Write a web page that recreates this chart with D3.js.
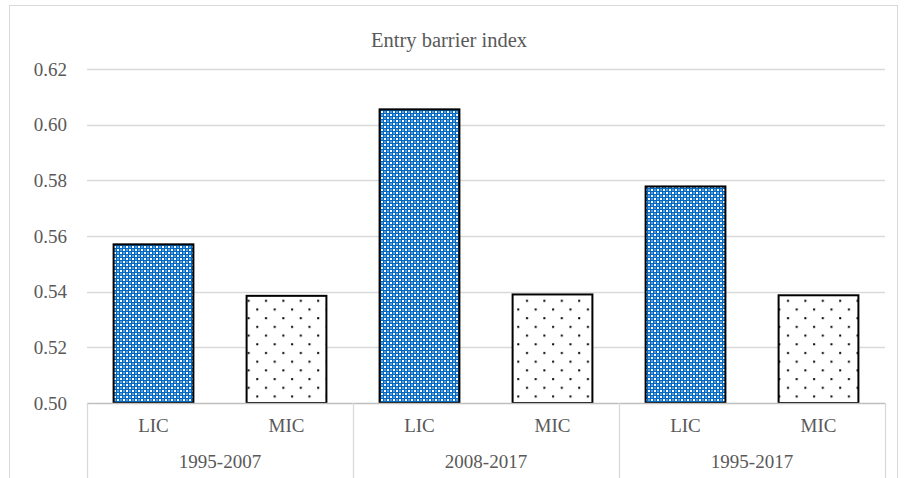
<!DOCTYPE html>
<html>
<head>
<meta charset="utf-8">
<script src="https://cdn.jsdelivr.net/npm/d3@7"></script>
<style>
  html, body { margin: 0; padding: 0; background: #fff; }
  svg { display: block; }
  text { font-family: "Liberation Serif", "Times New Roman", serif; fill: #595959; }
</style>
</head>
<body>
<svg id="chart" width="904" height="478"></svg>
<script>
// Entry barrier index by period and income group
const periods = ["1995-2007", "2008-2017", "1995-2017"];
const groups = ["LIC", "MIC"];
const licValues = [0.5570, 0.6055, 0.5778];
const micValues = [0.5385, 0.5390, 0.5387];
const yTicks = [0.50, 0.52, 0.54, 0.56, 0.58, 0.60, 0.62];
const chartTitle = "Entry barrier index";

const rows = [];
periods.forEach((p, i) => {
  rows.push({ period: p, group: "LIC", value: licValues[i] });
  rows.push({ period: p, group: "MIC", value: micValues[i] });
});

const svg = d3.select("#chart");
const W = 904, H = 478;
const m = { left: 87, right: 885, top: 69, bottom: 403 };

// Chart-area border
svg.append("rect")
  .attr("x", 9.5).attr("y", 5.5)
  .attr("width", 888).attr("height", 490)
  .attr("fill", "#fff").attr("stroke", "#d9d9d9").attr("stroke-width", 1);

// Fill patterns
const defs = svg.append("defs");
const blue = defs.append("pattern")
  .attr("id", "licFill").attr("patternUnits", "userSpaceOnUse")
  .attr("width", 6).attr("height", 6);
blue.append("rect").attr("width", 6).attr("height", 6).attr("fill", "#0068c0");
blue.append("rect").attr("x", 0).attr("y", 0).attr("width", 2).attr("height", 2).attr("fill", "#ffffff");
blue.append("rect").attr("x", 3).attr("y", 3).attr("width", 2).attr("height", 2).attr("fill", "#ffffff");
blue.append("rect").attr("x", 3).attr("y", 0).attr("width", 2).attr("height", 2).attr("fill", "#5a9fdc");
blue.append("rect").attr("x", 0).attr("y", 3).attr("width", 2).attr("height", 2).attr("fill", "#5a9fdc");

const dots = defs.append("pattern")
  .attr("id", "micFill").attr("patternUnits", "userSpaceOnUse")
  .attr("width", 17.4).attr("height", 17.4);
dots.append("rect").attr("width", 17.4).attr("height", 17.4).attr("fill", "#fff");
dots.append("rect").attr("x", 4).attr("y", 4).attr("width", 2).attr("height", 2).attr("fill", "#000");
dots.append("rect").attr("x", 12.7).attr("y", 12.7).attr("width", 2).attr("height", 2).attr("fill", "#000");

// Scales
const y = d3.scaleLinear().domain([0.50, 0.62]).range([m.bottom, m.top]);
const xOuter = d3.scaleBand().domain(periods).range([m.left, m.right]).paddingInner(0).paddingOuter(0);
const xInner = d3.scaleBand().domain(groups).range([0, xOuter.bandwidth()]).paddingInner(0.4).paddingOuter(0.2);

// Gridlines
svg.append("g").selectAll("line")
  .data(yTicks.filter(t => t > 0.50))
  .join("line")
  .attr("x1", m.left).attr("x2", m.right)
  .attr("y1", d => Math.round(y(d)) + 0.5).attr("y2", d => Math.round(y(d)) + 0.5)
  .attr("stroke", "#d9d9d9").attr("stroke-width", 1.3);

// Y tick labels
const yAxis = d3.axisLeft(y).tickValues(yTicks).tickFormat(d3.format(".2f")).tickSize(0).tickPadding(20);
const yG = svg.append("g").attr("transform", `translate(${m.left},0)`).call(yAxis);
yG.select(".domain").remove();
yG.selectAll("text")
  .style("font-family", "'Liberation Serif', serif").style("font-size", "19px").attr("fill", "#595959");

// Bars
svg.append("g").selectAll("rect")
  .data(rows)
  .join("rect")
  .attr("x", d => xOuter(d.period) + xInner(d.group))
  .attr("y", d => y(d.value))
  .attr("width", xInner.bandwidth())
  .attr("height", d => y(0.50) - y(d.value))
  .attr("fill", d => d.group === "LIC" ? "url(#licFill)" : "url(#micFill)")
  .attr("stroke", "#000").attr("stroke-width", 2);

// Category axis: baseline and period separators
const axisG = svg.append("g");
axisG.append("line")
  .attr("x1", m.left).attr("x2", m.right)
  .attr("y1", m.bottom + 0.5).attr("y2", m.bottom + 0.5)
  .attr("stroke", "#bfbfbf").attr("stroke-width", 1.3);
const seps = periods.map(p => xOuter(p)).concat([m.right]);
axisG.selectAll("line.sep")
  .data(seps)
  .join("line").attr("class", "sep")
  .attr("x1", d => Math.round(d) + 0.5).attr("x2", d => Math.round(d) + 0.5)
  .attr("y1", m.bottom).attr("y2", H)
  .attr("stroke", "#d9d9d9").attr("stroke-width", 1.3);

// Group labels (LIC / MIC)
axisG.selectAll("text.grp")
  .data(rows)
  .join("text").attr("class", "grp")
  .attr("x", d => xOuter(d.period) + xInner(d.group) + xInner.bandwidth() / 2)
  .attr("y", 432)
  .attr("text-anchor", "middle")
  .style("font-size", "19px")
  .text(d => d.group);

// Period labels
axisG.selectAll("text.per")
  .data(periods)
  .join("text").attr("class", "per")
  .attr("x", d => xOuter(d) + xOuter.bandwidth() / 2)
  .attr("y", 468)
  .attr("text-anchor", "middle")
  .style("font-size", "19px")
  .text(d => d);

// Title
svg.append("text")
  .attr("x", 449).attr("y", 47)
  .attr("text-anchor", "middle")
  .style("font-size", "20.5px")
  .text(chartTitle);
</script>
</body>
</html>
